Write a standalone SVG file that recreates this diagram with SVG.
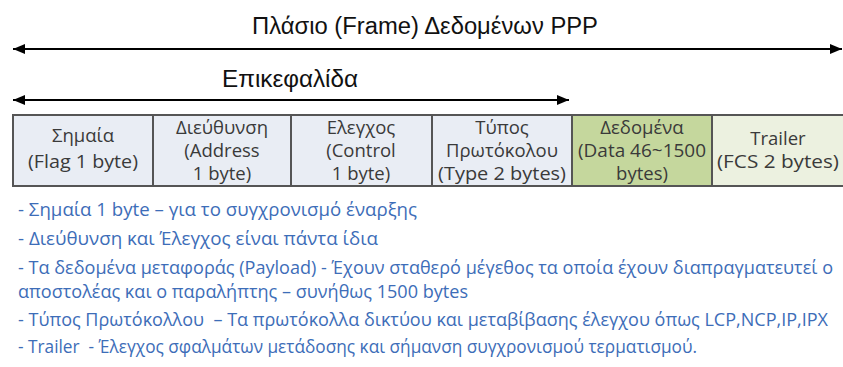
<svg xmlns="http://www.w3.org/2000/svg" width="843" height="367" viewBox="0 0 843 367">
<defs>
<marker id="ah" viewBox="0 0 12 10" refX="12" refY="5" markerWidth="12" markerHeight="10" markerUnits="userSpaceOnUse" orient="auto-start-reverse">
<path d="M0,0 L12,5 L0,10 Z" fill="#000"/>
</marker>
<style>
.ttl{font-family:"Liberation Sans",Arial,sans-serif;fill:#111;text-anchor:middle}
.cell{stroke:#555;stroke-width:2}
.ct{font-family:"Open Sans","Noto Sans",sans-serif;font-size:18.5px;fill:#3a3a3a;text-anchor:middle}
.bl{font-family:"Open Sans","Noto Sans",sans-serif;font-size:17.5px;fill:#3d6db8}
.arr{stroke:#000;stroke-width:2;fill:none}
</style>
</defs>
<rect width="843" height="367" fill="#fff"/>
<text class="ttl" x="425" y="34" font-size="23" textLength="346" lengthAdjust="spacingAndGlyphs">Πλάσιο (Frame) Δεδομένων PPP</text>
<text class="ttl" x="290" y="87" font-size="23" textLength="136" lengthAdjust="spacingAndGlyphs">Επικεφαλίδα</text>
<g id="connectors">
<line class="arr" x1="13" y1="49" x2="842" y2="49" marker-start="url(#ah)" marker-end="url(#ah)"/>
<line class="arr" x1="13" y1="100" x2="569" y2="100" marker-start="url(#ah)" marker-end="url(#ah)"/>
</g>
<g id="flag">
<rect class="cell" x="13" y="115" width="140" height="71" fill="#e9edf4"/>
<text class="ct" x="83" y="142">Σημαία</text>
<text class="ct" x="83" y="168" textLength="110" lengthAdjust="spacingAndGlyphs">(Flag 1 byte)</text>
</g>
<g id="address">
<rect class="cell" x="153" y="115" width="138" height="71" fill="#e9edf4"/>
<text class="ct" x="222" y="134">Διεύθυνση</text>
<text class="ct" x="222" y="157">(Address</text>
<text class="ct" x="222" y="180">1 byte)</text>
</g>
<g id="control">
<rect class="cell" x="291" y="115" width="141" height="71" fill="#e9edf4"/>
<text class="ct" x="361" y="134">Ελεγχος</text>
<text class="ct" x="361" y="157">(Control</text>
<text class="ct" x="361" y="180">1 byte)</text>
</g>
<g id="type">
<rect class="cell" x="432" y="115" width="140" height="71" fill="#e9edf4"/>
<text class="ct" x="502" y="134">Τύπος</text>
<text class="ct" x="502" y="157">Πρωτόκολου</text>
<text class="ct" x="502" y="180" textLength="128" lengthAdjust="spacingAndGlyphs">(Type 2 bytes)</text>
</g>
<g id="data">
<rect class="cell" x="572" y="115" width="140" height="71" fill="#c5d79d"/>
<text class="ct" x="642" y="134">Δεδομένα</text>
<text class="ct" x="642" y="157" textLength="128" lengthAdjust="spacingAndGlyphs">(Data 46~1500</text>
<text class="ct" x="642" y="180">bytes)</text>
</g>
<g id="trailer">
<rect class="cell" x="712" y="115" width="140" height="71" fill="#ecf1e0"/>
<text class="ct" x="778" y="145">Trailer</text>
<text class="ct" x="778" y="168" textLength="122" lengthAdjust="spacingAndGlyphs">(FCS 2 bytes)</text>
</g>
<g id="notes">
<text class="bl" x="18" y="216" textLength="399" lengthAdjust="spacingAndGlyphs">- Σημαία 1 byte – για το συγχρονισμό έναρξης</text>
<text class="bl" x="18" y="245" textLength="360" lengthAdjust="spacingAndGlyphs">- Διεύθυνση και Έλεγχος είναι πάντα ίδια</text>
<text class="bl" x="18" y="274" textLength="815" lengthAdjust="spacingAndGlyphs">- Τα δεδομένα μεταφοράς (Payload) - Έχουν σταθερό μέγεθος τα οποία έχουν διαπραγματευτεί ο</text>
<text class="bl" x="18" y="298" textLength="450" lengthAdjust="spacingAndGlyphs">αποστολέας και ο παραλήπτης – συνήθως 1500 bytes</text>
<text class="bl" x="18" y="326" textLength="810" lengthAdjust="spacingAndGlyphs">- Τύπος Πρωτόκολλου&#160; – Τα πρωτόκολλα δικτύου και μεταβίβασης έλεγχου όπως LCP,NCP,IP,IPX</text>
<text class="bl" x="18" y="353" textLength="679" lengthAdjust="spacingAndGlyphs">- Trailer&#160; - Έλεγχος σφαλμάτων μετάδοσης και σήμανση συγχρονισμού τερματισμού.</text>
</g>
</svg>
